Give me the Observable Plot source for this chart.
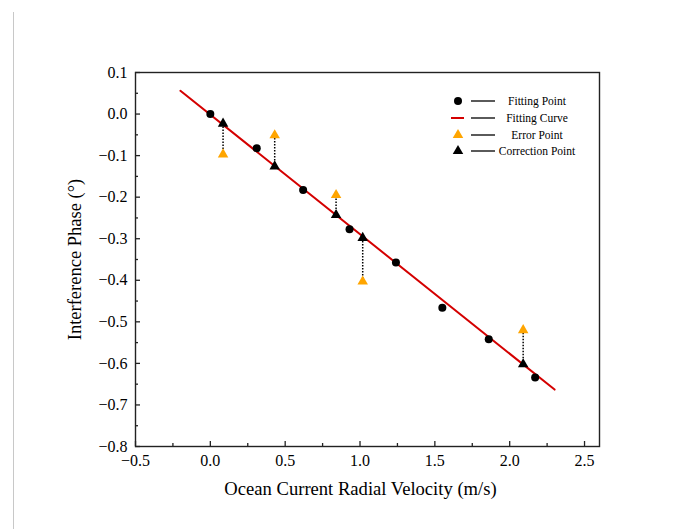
<!DOCTYPE html>
<html><head><meta charset="utf-8">
<script src="https://cdn.jsdelivr.net/npm/d3@7"></script>
<script src="https://cdn.jsdelivr.net/npm/@observablehq/plot@0.6"></script>
<style>
body{margin:0;background:#fff;}
#wrap{position:relative;width:680px;height:529px;}
#edge{position:absolute;left:13px;top:12px;width:1px;height:517px;background:#c8c8c8;}
</style></head><body><div id="wrap"><div id="edge"></div></div>
<script>
// Fitting points
const fitX = [0, 0.31, 0.62, 0.93, 1.24, 1.55, 1.86, 2.17];
const fitY = [0, -0.082, -0.183, -0.277, -0.357, -0.466, -0.542, -0.634];
// Fitting curve end points
const curveX = [-0.2, 2.3];
const curveY = [0.056, -0.663];
// Error points and correction points (same velocities)
const errX = [0.085, 0.43, 0.84, 1.018, 2.09];
const errY = [-0.097, -0.051, -0.195, -0.403, -0.52];
const corrY = [-0.023, -0.126, -0.243, -0.298, -0.602];
// Ticks
const xTicks = [-0.5, 0, 0.5, 1, 1.5, 2, 2.5];
const xMinor = [-0.25, 0.25, 0.75, 1.25, 1.75, 2.25];
const yTicks = [0.1, 0, -0.1, -0.2, -0.3, -0.4, -0.5, -0.6, -0.7, -0.8];
const yMinor = [0.05, -0.05, -0.15, -0.25, -0.35, -0.45, -0.55, -0.65, -0.75];
const legendLabels = ["Fitting Point", "Fitting Curve", "Error Point", "Correction Point"];
const xTitle = "Ocean Current Radial Velocity (m/s)";
const yTitle = "Interference Phase (°)";

const RED = "#d40000", ORANGE = "#ffa500", FONT = "'Liberation Serif','Times New Roman',serif";

const fitData = fitX.map((x, i) => ({x, y: fitY[i]}));
const curveData = curveX.map((x, i) => ({x, y: curveY[i]}));
const errData = errX.map((x, i) => ({x, e: errY[i], c: corrY[i]}));

const plot = Plot.plot({
  width: 680, height: 529,
  marginLeft: 135, marginRight: 81, marginTop: 72, marginBottom: 83,
  style: {fontFamily: FONT, fontSize: "16px", color: "#000", background: "transparent"},
  x: {domain: [-0.5, 2.6], axis: null},
  y: {domain: [-0.8, 0.1], axis: null},
  marks: [
    Plot.line(curveData, {x: "x", y: "y", stroke: RED, strokeWidth: 2}),
    Plot.link(errData, {x1: "x", x2: "x", y1: "c", y2: "e", stroke: "#000", strokeWidth: 1.5, strokeDasharray: "1.5,1.5"}),
    Plot.dot(fitData, {x: "x", y: "y", r: 4, fill: "#000", symbol: "circle"}),
    Plot.dot(errData, {x: "x", y: "e", r: 3.9, fill: ORANGE, symbol: "triangle"}),
    Plot.dot(errData, {x: "x", y: "c", r: 3.9, fill: "#000", symbol: "triangle"}),
    Plot.frame({stroke: "#222", strokeWidth: 1.4}),
    Plot.axisX(xTicks, {tickSize: -5, tickFormat: () => "", label: null, strokeWidth: 1.3, stroke: "#222"}),
    Plot.axisX(xMinor, {tickSize: -3, tickFormat: () => "", label: null, strokeWidth: 1.3, stroke: "#222"}),
    Plot.axisX(xTicks, {tickSize: 0, tickPadding: 8, tickFormat: d3.format(".1f"), label: null, fill: "#000", fontSize: 16}),
    Plot.axisY(yTicks, {tickSize: -5, tickFormat: () => "", label: null, strokeWidth: 1.3, stroke: "#222"}),
    Plot.axisY(yMinor, {tickSize: -3, tickFormat: () => "", label: null, strokeWidth: 1.3, stroke: "#222"}),
    Plot.axisY(yTicks, {tickSize: 0, tickPadding: 8, tickFormat: d3.format(".1f"), label: null, fill: "#000", fontSize: 16}),
    Plot.text([xTitle], {frameAnchor: "bottom", textAnchor: "middle", dy: 48, dx: -7, fontSize: 18.6, fill: "#000"}),
    Plot.text([yTitle], {frameAnchor: "left", textAnchor: "middle", lineAnchor: "middle", dx: -60, rotate: -90, fontSize: 18.5, fill: "#000"})
  ]
});
document.getElementById("wrap").appendChild(plot);

// Legend
const svg = d3.select(plot);
const lg = svg.append("g").attr("font-family", FONT).attr("font-size", 11.5);
const rows = [101, 118, 135, 151];
const tri = d3.symbol(d3.symbolTriangle, 3.9 * 3.9 * Math.PI)();
legendLabels.forEach((lab, i) => {
  const y = rows[i];
  const g = lg.append("g");
  if (i === 0) g.append("circle").attr("cx", 458).attr("cy", y).attr("r", 4).attr("fill", "#000");
  if (i === 1) g.append("line").attr("x1", 451).attr("x2", 464).attr("y1", y).attr("y2", y).attr("stroke", RED).attr("stroke-width", 2);
  if (i === 2) g.append("path").attr("d", tri).attr("transform", `translate(458,${y})`).attr("fill", ORANGE);
  if (i === 3) g.append("path").attr("d", tri).attr("transform", `translate(458,${y})`).attr("fill", "#000");
  g.append("line").attr("x1", 471).attr("x2", 495).attr("y1", y).attr("y2", y).attr("stroke", "#000").attr("stroke-width", 1.3);
  g.append("text").attr("x", 537).attr("y", y).attr("dy", "0.35em").attr("text-anchor", "middle").attr("fill", "#000").text(lab);
});
</script></body></html>
